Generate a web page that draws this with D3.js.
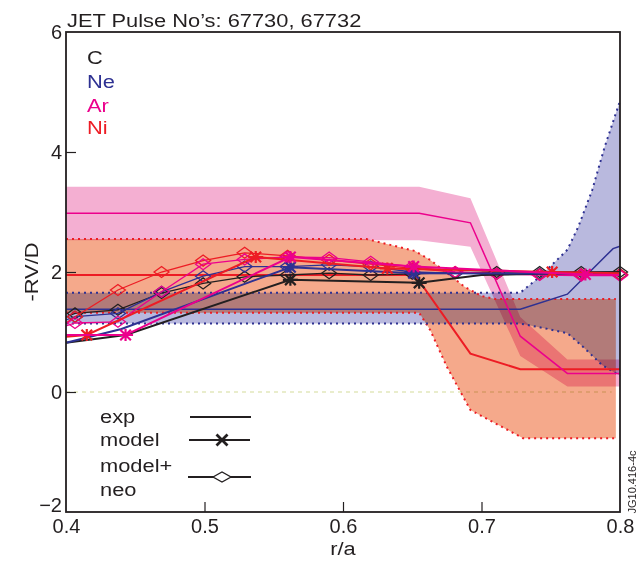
<!DOCTYPE html>
<html>
<head>
<meta charset="utf-8">
<script src="https://cdn.jsdelivr.net/npm/d3@7"></script>
<style>
  body { margin: 0; background: #fff; }
  text { font-family: "Liberation Sans", Arial, Helvetica, sans-serif; }
</style>
</head>
<body>
<div id="chart"></div>
<script>
// axis ticks
const xTicks = [0.4, 0.5, 0.6, 0.7, 0.8];
const yTicks = [-2, 0, 2, 4, 6];
const species = ['C', 'Ne', 'Ar', 'Ni'];

// experimental profiles (line + uncertainty band)
const arExpX = [0.4, 0.655, 0.692, 0.728, 0.762, 0.8];
const arExp  = [2.98, 2.98, 2.82, 0.93, 0.31, 0.31];
const arHi   = [3.42, 3.42, 3.23, 1.25, 0.54, 0.54];
const arLo   = [2.53, 2.53, 2.42, 0.6, 0.09, 0.09];

const niExpX = [0.4, 0.652, 0.692, 0.728, 0.8];
const niExp  = [1.95, 1.95, 0.64, 0.38, 0.38];
const niHiX  = [0.4, 0.617, 0.652, 0.663, 0.688, 0.7, 0.71, 0.797];
const niHi   = [2.55, 2.55, 2.35, 2.2, 1.75, 1.6, 1.55, 1.55];
const niLoX  = [0.4, 0.655, 0.663, 0.675, 0.692, 0.726, 0.73, 0.797];
const niLo   = [1.32, 1.32, 1.03, 0.42, -0.3, -0.72, -0.77, -0.77];

const neExpX = [0.4, 0.728, 0.762, 0.795, 0.8];
const neExp  = [1.38, 1.38, 1.63, 2.39, 2.43];
const neHiX  = [0.4, 0.728, 0.742, 0.762, 0.77, 0.78, 0.789, 0.8];
const neHi   = [1.655, 1.655, 1.92, 2.37, 2.76, 3.37, 4.09, 4.85];
const neLoX  = [0.4, 0.728, 0.746, 0.762, 0.773, 0.787, 0.8];
const neLo   = [1.14, 1.14, 1.06, 0.98, 0.76, 0.45, 0.27];

// model (asterisk markers at the listed indices)
const cModX  = [0.4, 0.443, 0.562, 0.655, 0.7, 0.8];
const cMod   = [0.82, 0.95, 1.87, 1.82, 1.95, 2.0];
const cModMarks = [2, 3];
const neModX = [0.4, 0.44, 0.562, 0.651, 0.8];
const neMod  = [0.82, 1.05, 2.08, 1.98, 1.97];
const neModMarks = [2, 3];
const arModX = [0.4, 0.443, 0.562, 0.651, 0.775, 0.8];
const arMod  = [0.95, 0.95, 2.25, 2.09, 1.96, 1.95];
const arModMarks = [1, 2, 3, 4];
const niModX = [0.4, 0.415, 0.537, 0.632, 0.751, 0.8];
const niMod  = [0.92, 0.95, 2.25, 2.06, 2.0, 1.98];
const niModMarks = [1, 2, 3, 4];

// model + neo (diamonds at every point but the first)
const neoX  = [0.4, 0.4065, 0.4375, 0.469, 0.499, 0.529, 0.56, 0.59, 0.62, 0.65, 0.681, 0.711, 0.742, 0.772, 0.8];
const cNeo  = [1.25, 1.31, 1.37, 1.65, 1.81, 1.92, 1.95, 1.98, 1.95, 1.97, 1.99, 2.0, 2.0, 2.0, 2.0];
const neNeo = [1.2, 1.255, 1.31, 1.67, 1.93, 2.09, 2.09, 2.12, 2.09, 2.0, 1.98, 1.97, 1.97, 1.96, 1.96];
const arNeo = [1.1, 1.15, 1.17, 1.67, 2.13, 2.21, 2.25, 2.24, 2.17, 2.09, 2.0, 1.97, 1.95, 1.94, 1.94];
const niNeo = [1.15, 1.255, 1.70, 2.0, 2.19, 2.32, 2.27, 2.2, 2.13, 2.06, 2.0, 1.97, 1.96, 1.96, 1.96];

const colors = { C: '#231f20', Ne: '#2e3192', Ar: '#ec008c', Ni: '#ed1c24' };
const fills = { Ne: '#b9b9de', Ni: '#f5a98b', Ar: '#f4afd2' };
const ink = '#231f20';

const W = 639, H = 563;
const margin = { left: 66, top: 32, right: 19, bottom: 51 };
const width = W - margin.left - margin.right;
const height = H - margin.top - margin.bottom;

const svg = d3.select('#chart').append('svg')
  .attr('width', W).attr('height', H);
const g = svg.append('g')
  .attr('transform', 'translate(' + margin.left + ',' + margin.top + ')');

const x = d3.scaleLinear().domain([0.4, 0.8]).range([0, width]);
const y = d3.scaleLinear().domain([-2, 6]).range([height, 0]);

const line = d3.line().x(d => x(d[0])).y(d => y(d[1]));
const pts = (xs, ys) => xs.map((v, i) => [v, ys[i]]);

// zero line
g.append('line')
  .attr('x1', 0).attr('x2', x(0.794))
  .attr('y1', y(0)).attr('y2', y(0))
  .attr('stroke', '#d3dc9a').attr('stroke-width', 1.2)
  .attr('stroke-dasharray', '4,4');

// bands
function band(hx, hy, lx, ly, fill) {
  const poly = pts(hx, hy).concat(pts(lx, ly).reverse());
  g.append('path')
    .attr('d', line(poly) + 'Z')
    .attr('fill', fill)
    .style('mix-blend-mode', 'multiply');
}
band(neHiX, neHi, neLoX, neLo, fills.Ne);
band(niHiX, niHi, niLoX, niLo, fills.Ni);
band(arExpX, arHi, arExpX, arLo, fills.Ar);

// dotted band edges
function dotted(xs, ys, col) {
  g.append('path')
    .attr('d', line(pts(xs, ys)))
    .attr('fill', 'none').attr('stroke', col)
    .attr('stroke-width', 2).attr('stroke-dasharray', '2,4');
}
dotted(niHiX, niHi, colors.Ni);
dotted(niLoX, niLo, colors.Ni);
dotted(neHiX, neHi, colors.Ne);
dotted(neLoX, neLo, colors.Ne);

// experimental lines
function plain(xs, ys, col, w) {
  g.append('path')
    .attr('d', line(pts(xs, ys)))
    .attr('fill', 'none').attr('stroke', col).attr('stroke-width', w);
}
plain(neExpX, neExp, colors.Ne, 1.5);
plain(niExpX, niExp, colors.Ni, 2);
plain(arExpX, arExp, colors.Ar, 1.5);

// marker shapes
function asterisk(sel, cx, cy, r, col, w) {
  const a = r * 0.71;
  const d = 'M' + (cx - a) + ',' + (cy - a) + 'L' + (cx + a) + ',' + (cy + a) +
    'M' + (cx - a) + ',' + (cy + a) + 'L' + (cx + a) + ',' + (cy - a) +
    'M' + (cx - r) + ',' + cy + 'L' + (cx + r) + ',' + cy +
    'M' + cx + ',' + (cy - r * 0.8) + 'L' + cx + ',' + (cy + r * 0.8);
  sel.append('path').attr('d', d).attr('stroke', col).attr('stroke-width', w).attr('fill', 'none');
}
function diamond(sel, cx, cy, rx, ry, col, w) {
  const d = 'M' + (cx - rx) + ',' + cy + 'L' + cx + ',' + (cy - ry) +
    'L' + (cx + rx) + ',' + cy + 'L' + cx + ',' + (cy + ry) + 'Z';
  sel.append('path').attr('d', d).attr('stroke', col).attr('stroke-width', w).attr('fill', 'none');
}

// model + neo lines
const neoSets = [[cNeo, colors.C], [neNeo, colors.Ne], [niNeo, colors.Ni], [arNeo, colors.Ar]];
neoSets.forEach(([ys, col]) => {
  plain(neoX, ys, col, 1.3);
  neoX.forEach((v, i) => {
    if (i > 0) diamond(g, x(v), y(ys[i]), 7.5, 5.5, col, 1.3);
  });
});

// model lines
const modSets = [
  [cModX, cMod, cModMarks, colors.C],
  [neModX, neMod, neModMarks, colors.Ne],
  [niModX, niMod, niModMarks, colors.Ni],
  [arModX, arMod, arModMarks, colors.Ar]
];
modSets.forEach(([xs, ys, marks, col]) => {
  plain(xs, ys, col, 2);
  marks.forEach(i => asterisk(g, x(xs[i]), y(ys[i]), 7.5, col, 2.2));
});

// axes (ticks point inward)
const xAxis = g.append('g')
  .attr('transform', 'translate(0,' + height + ')')
  .call(d3.axisBottom(x).tickValues(xTicks).tickFormat(d3.format('.1f'))
    .tickSizeInner(-10).tickSizeOuter(0).tickPadding(7));
const yAxis = g.append('g')
  .call(d3.axisLeft(y).tickValues(yTicks).tickFormat(d3.format('d'))
    .tickSizeInner(-10).tickSizeOuter(0).tickPadding(4));
[xAxis, yAxis].forEach(a => {
  a.select('.domain').remove();
  a.selectAll('text').attr('font-size', 20).attr('fill', ink)
    .style('font-family', '"Liberation Sans", Arial, sans-serif');
  a.selectAll('line').attr('stroke', ink).attr('stroke-width', 1.2);
});
xAxis.selectAll('.tick').filter(d => d === 0.4 || d === 0.8).select('line').remove();
yAxis.selectAll('.tick').filter(d => d === -2 || d === 6).select('line').remove();
// lift the bottom y label clear of the "0.4" label
yAxis.selectAll('.tick').filter(d => d === -2).select('text').attr('dy', '-0.05em');

// frame
g.append('rect')
  .attr('width', width).attr('height', height)
  .attr('fill', 'none').attr('stroke', ink).attr('stroke-width', 1.8);

// text in the reference is slightly wide, so stretch it a little
function label(tx, ty, t, col, anchor, rot) {
  return svg.append('text')
    .attr('transform', 'translate(' + tx + ',' + ty + ')' + (rot ? ' rotate(' + rot + ')' : '') + ' scale(1.15,1)')
    .attr('font-size', 19).attr('fill', col)
    .attr('text-anchor', anchor || 'start').text(t);
}
label(67, 26.5, 'JET Pulse No\u2019s: 67730, 67732', ink);
label(margin.left + x(0.6), 555, 'r/a', ink, 'middle');
label(38, margin.top + y(2), '-RV/D', ink, 'middle', -90);
svg.append('text').attr('transform', 'translate(636,482) rotate(-90)')
  .attr('font-size', 11).attr('text-anchor', 'middle').attr('fill', ink).text('JG10.416-4c');

// species legend
const speciesY = [64, 88, 111.5, 134];
species.forEach((s, i) => label(87, speciesY[i], s, colors[s]));

// style legend
const legTexts = [['exp', 423], ['model', 446], ['model+', 471.5], ['neo', 496]];
legTexts.forEach(([t, ty]) => label(100, ty, t, ink));
const leg = svg.append('g');
[[190, 251, 417], [189, 250, 440], [188, 251, 477]].forEach(([x1, x2, ly]) => {
  leg.append('line').attr('x1', x1).attr('x2', x2).attr('y1', ly).attr('y2', ly)
    .attr('stroke', ink).attr('stroke-width', 2);
});
const xs = 5.5;
leg.append('path')
  .attr('d', 'M' + (222 - xs) + ',' + (440 - xs) + 'L' + (222 + xs) + ',' + (440 + xs) +
    'M' + (222 - xs) + ',' + (440 + xs) + 'L' + (222 + xs) + ',' + (440 - xs))
  .attr('stroke', ink).attr('stroke-width', 2.8);
leg.append('path')
  .attr('d', 'M213,477L222,472L231,477L222,482Z')
  .attr('fill', '#fff').attr('stroke', ink).attr('stroke-width', 1.3);
</script>
</body>
</html>
